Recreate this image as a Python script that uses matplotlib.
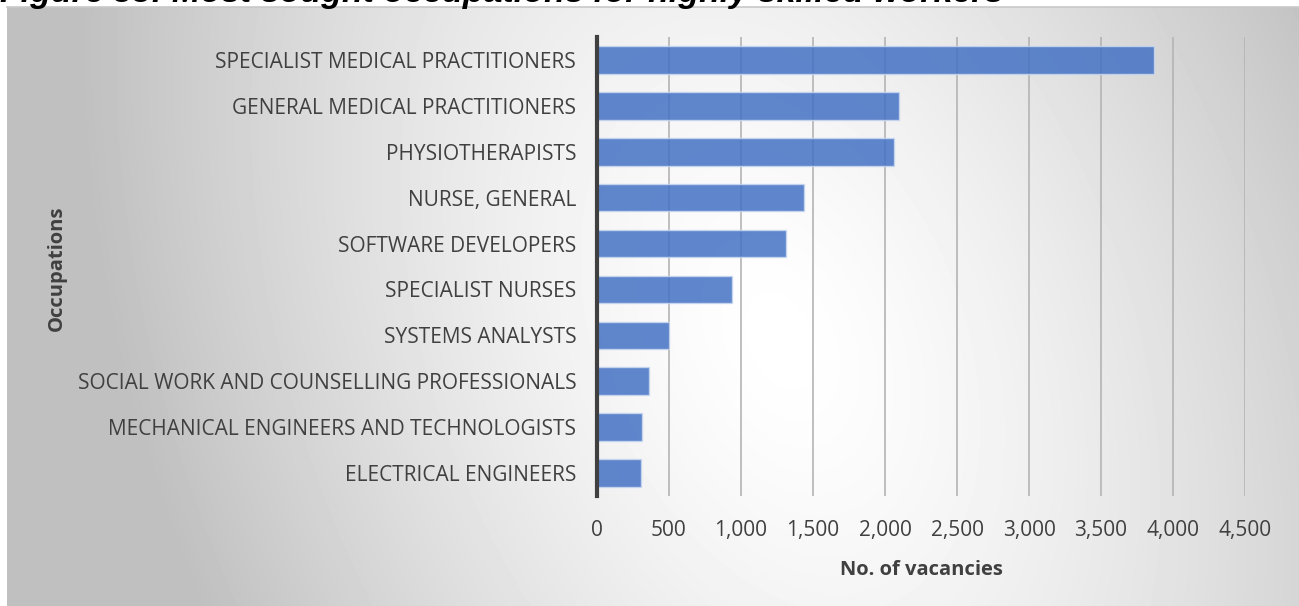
import numpy as np
import matplotlib.pyplot as plt
from matplotlib.ticker import FuncFormatter, MultipleLocator

# Vacancies by occupation (top 10, highly skilled)
occupations = [
    "SPECIALIST MEDICAL PRACTITIONERS",
    "GENERAL MEDICAL PRACTITIONERS",
    "PHYSIOTHERAPISTS",
    "NURSE, GENERAL",
    "SOFTWARE DEVELOPERS",
    "SPECIALIST NURSES",
    "SYSTEMS ANALYSTS",
    "SOCIAL WORK AND COUNSELLING PROFESSIONALS",
    "MECHANICAL ENGINEERS AND TECHNOLOGISTS",
    "ELECTRICAL ENGINEERS",
]
vacancies = [3870, 2100, 2060, 1440, 1315, 940, 500, 360, 315, 305]

title = "Figure 33: Most sought occupations for highly skilled workers"

plt.rcParams['font.family'] = ['Open Sans', 'DejaVu Sans']

W, H = 1299, 606
fig = plt.figure(figsize=(W / 100, H / 100), dpi=100)
fig.patch.set_facecolor('white')

# grey chart area with a soft light spot
bg = fig.add_axes([7 / W, 0, 1 - 7 / W, 1 - 7 / H])
bg.set_axis_off()
yy, xx = np.mgrid[7:H, 7:W]
cx, cy = 780, 340
dx, dy = xx - cx, yy - cy
ux, uy = 0.381, 0.925
u = dx * ux + dy * uy
v = -dx * uy + dy * ux
d = np.sqrt((u / 1000) ** 2 + (v / 640) ** 2)
shade = 1 - 0.25 * np.clip(d, 0, 1) ** 1.4
bg.imshow(shade, cmap='gray', vmin=0, vmax=1, aspect='auto',
          interpolation='bilinear')
fig.add_artist(plt.Line2D([7 / W, 1], [1 - 7 / H, 1 - 7 / H],
                          color='#c8c8c8', lw=1.2))

ax = fig.add_axes([597 / W, 1 - 496 / H, (1245 - 597) / W, (496 - 37) / H])
ax.set_facecolor('none')

pos = np.arange(len(occupations))
ax.barh(pos, vacancies, height=0.6, color='#4472C4', alpha=0.85,
        edgecolor='#c9d7f0', linewidth=1.0, zorder=3)

ax.set_xlim(0, 4500)
ax.set_ylim(len(occupations) - 0.5, -0.5)
ax.xaxis.set_major_locator(MultipleLocator(500))
ax.xaxis.set_major_formatter(FuncFormatter(lambda x, p: f"{int(x):,}"))
ax.set_yticks(pos)
ax.set_yticklabels(occupations)

ax.grid(axis='x', color='#b4b4b4', linewidth=1.2, zorder=0)
ax.set_axisbelow(True)
for s in ['top', 'right', 'bottom']:
    ax.spines[s].set_visible(False)
ax.spines['left'].set_color('#404040')
ax.spines['left'].set_linewidth(3)
ax.spines['left'].set_zorder(4)

ax.tick_params(axis='both', length=0, labelsize=15, colors='#404040')
ax.tick_params(axis='y', pad=15)
ax.tick_params(axis='x', pad=17)

ax.set_xlabel("No. of vacancies", fontsize=14.5, fontweight='bold',
              color='#404040', labelpad=14)
fig.text(57 / W, 1 - 268 / H, "Occupations", rotation=90, fontsize=14.5,
         fontweight='bold', color='#404040', ha='center', va='center')

# heading runs off the top of the canvas
fig.text(0, 1 - 2 / H, title, fontsize=24.5, fontweight='bold',
         style='italic', family='Liberation Sans', ha='left',
         va='baseline', color='black')

fig.savefig('out.png', dpi=100)
